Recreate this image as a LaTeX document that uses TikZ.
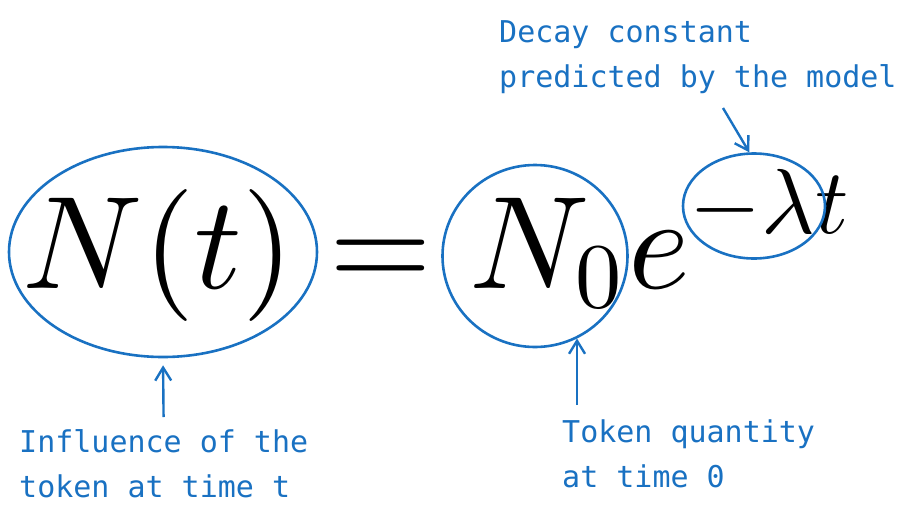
\documentclass[tikz,border=0pt]{standalone}
\usepackage{graphicx}
\usepackage{fontspec}
\newfontfamily\handfont{DejaVu Sans Mono}
\usetikzlibrary{shapes.geometric, arrows.meta, calc}
\definecolor{sketchblue}{HTML}{1971C2}
\tikzstyle{ring} = [ellipse, draw=sketchblue, line width=2.6pt, inner sep=0pt]
\tikzstyle{note} = [align=left, inner sep=0pt, anchor=north west, text=sketchblue, font=\handfont\fontsize{30}{45}\selectfont]
\tikzstyle{arrow} = [draw=sketchblue, line width=2.4pt, -{Straight Barb[length=13pt,width=16pt]}]
\newcommand{\smallmath}[1]{\scalebox{0.7}{$#1$}}

\begin{document}
\begin{tikzpicture}[x=1pt,y=-1pt]
	\useasboundingbox (0,0) rectangle (908,520);
	% formula
	\node (eq) [anchor=base west, inner sep=0pt, scale=13.2] at (20,288) {$\displaystyle N(t)=N_{\smallmath{0}}e^{\smallmath{-\lambda t}}$};
	% rings round the parts
	\node (ringNt) [ring, minimum width=308pt, minimum height=210pt] at (163,252) {};
	\node (ringN0) [ring, minimum width=185pt, minimum height=182pt] at (535,256) {};
	\node (ringLam) [ring, minimum width=142pt, minimum height=105pt] at (754,206) {};
	% notes
	\node (lblLam) [note] at (499,20) {Decay constant\\predicted by the model};
	\node (lblNt) [note] at (19,429) {Influence of the\\token at time t};
	\node (lblN0) [note] at (562,419) {Token quantity\\at time 0};
	\coordinate (lamTail) at (723,108);
	\draw [arrow] (lamTail) -- (ringLam.95);
	\draw [arrow, shorten <=12pt, shorten >=7pt] (lblNt.north) -- (ringNt.south);
	\draw [arrow, shorten <=14pt] (ringN0.-63 |- lblN0.north) -- (ringN0.-63);
\end{tikzpicture}
\end{document}
